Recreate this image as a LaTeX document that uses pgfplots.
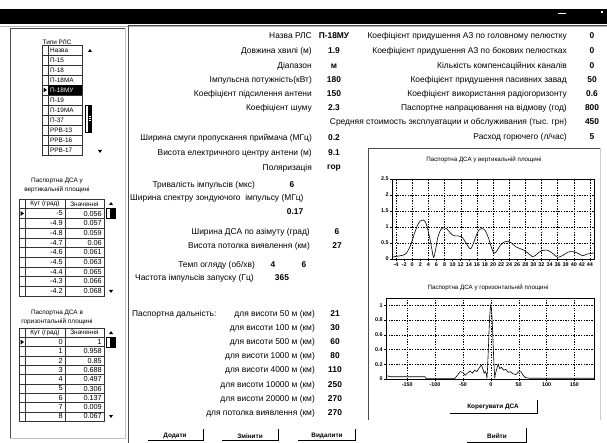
\documentclass[border=0pt]{standalone}
\usepackage{fontspec}
\setmainfont{Liberation Sans}
\usepackage{pgfplots}
\pgfplotsset{compat=1.18}
\newcommand{\fm}{\fontsize{8.4}{9}\selectfont}
\newcommand{\fs}{\fontsize{6.4}{7.5}\selectfont}
\newcommand{\ft}{\fontsize{7.3}{8}\selectfont}
\begin{document}
\begin{tikzpicture}[x=1pt,y=1pt,every node/.style={inner sep=0pt,font=\fm}]
\path[use as bounding box,fill=white] (0,0) rectangle (607,-443);
% title bar
\fill[black] (0,-9) rectangle (607,-24);
\draw[white,line width=1.2pt] (558,-13.5) -- (566,-13.5);
\fill[white] (601,-11) rectangle (603,-13);
\draw[gray!60] (0,-26.5) -- (607,-26.5);

% left panel
\draw[black!70,line width=0.7pt] (10,-438) -- (10,-28) -- (125,-28);
\draw[black!25,line width=0.7pt] (125,-28) -- (125,-438) -- (10,-438);
\draw[black!70,line width=0.8pt] (128,-443) -- (128,-25) -- (607,-25);

\node at (57,-42) {\fs Типи РЛС};
\foreach \n [count=\i from 0] in {Назва,П-15,П-18,П-18МА,П-18МУ,П-19,П-19МА,П-37,РРВ-13,РРВ-16,РРВ-17}{
  \draw[black!80,line width=0.4pt] (42,-45-10*\i) rectangle (48,-55-10*\i);
  \draw[black!80,line width=0.4pt] (48,-45-10*\i) rectangle (82,-55-10*\i);
  \node[anchor=west] at (50,-50-10*\i) {\fs \n};
}
\fill[black] (48,-85) rectangle (82,-95);
\node[anchor=west,text=white] at (50,-90) {\fs П-18МУ};
\fill[black] (43.5,-87.5) -- (47,-90) -- (43.5,-92.5) -- cycle;
\fill[black] (88,-52) -- (92,-52) -- (90,-49) -- cycle;
\fill[black] (98,-150) -- (102,-150) -- (100,-153) -- cycle;
\draw[black,fill=white,line width=0.4pt] (85,-105) rectangle (91,-132);
\fill[black] (88,-105) rectangle (91,-132);
\draw[white,line width=0.3pt] (88.5,-116) -- (90.5,-116) (88.5,-118) -- (90.5,-118) (88.5,-120) -- (90.5,-120);

\node at (57,-181) {\fs Паспортна ДСА у};
\node at (57,-190) {\fs вертикальній площині};
% table 1
\draw[black!80,line width=0.4pt] (19,-199) rectangle (104,-296);
\foreach \i in {1,...,9}{\draw[black!80,line width=0.4pt] (19,-199-9.7*\i) -- (104,-199-9.7*\i);}
\draw[black!80,line width=0.4pt] (25,-199) -- (25,-296) (65,-199) -- (65,-296);
\node at (45,-204) {\fs Кут (град)};
\node at (84.5,-204) {\fs Значення};
\foreach \a/\v [count=\i from 0] in {-5/0.056,-4.9/0.057,-4.8/0.059,-4.7/0.06,-4.6/0.061,-4.5/0.063,-4.4/0.065,-4.3/0.066,-4.2/0.068}{
  \node[anchor=east] at (63,-213.5-9.7*\i) {\ft \a};
  \node[anchor=east] at (102,-213.5-9.7*\i) {\ft \v};
}
\fill[black] (20.5,-211) -- (24,-213.5) -- (20.5,-216) -- cycle;
\fill[black] (109,-205) -- (113,-205) -- (111,-202) -- cycle;
\draw[black,line width=0.4pt] (106,-208) rectangle (115,-218);
\fill[black] (110,-208) rectangle (115,-218);
\fill[black] (109,-290) -- (113,-290) -- (111,-293) -- cycle;

\node at (57,-313) {\fs Паспортна ДСА в};
\node at (57,-322) {\fs горизонтальній площині};
% table 2
\draw[black!80,line width=0.4pt] (19,-328) rectangle (104,-421);
\foreach \i in {1,...,9}{\draw[black!80,line width=0.4pt] (19,-328-9.3*\i) -- (104,-328-9.3*\i);}
\draw[black!80,line width=0.4pt] (25,-328) -- (25,-421) (65,-328) -- (65,-421);
\node at (45,-332.7) {\fs Кут (град)};
\node at (84.5,-332.7) {\fs Значення};
\foreach \a/\v [count=\i from 0] in {0/1,1/0.958,2/0.85,3/0.688,4/0.497,5/0.306,6/0.137,7/0.009,8/0.067}{
  \node[anchor=east] at (63,-342-9.3*\i) {\ft \a};
  \node[anchor=east] at (102,-342-9.3*\i) {\ft \v};
}
\fill[black] (20.5,-339.5) -- (24,-342) -- (20.5,-344.5) -- cycle;
\fill[black] (109,-334) -- (113,-334) -- (111,-331) -- cycle;
\draw[black,line width=0.4pt] (106,-337) rectangle (115,-347);
\fill[black] (110,-337) rectangle (115,-347);
\fill[black] (109,-415) -- (113,-415) -- (111,-418) -- cycle;

% main fields, left column
\foreach \y/\l/\v in {36/Назва РЛС/П-18МУ,51/Довжина хвилі (м)/1.9,66/Діапазон/м,80/Імпульсна потужність(кВт)/180,94/Коефіцієнт підсилення антени/150,108/Коефіцієнт шуму/2.3,138/Ширина смуги пропускання приймача (МГц)/0.2,153/Висота електричного центру антени (м)/9.1,168/Поляризація/гор}{
  \node[anchor=east] at (312,-\y) {\l};
  \node at (334,-\y) {\bfseries \v};
}
% right column
\foreach \y/\l/\v in {36/Коефіцієнт придушення АЗ по головному пелюстку/0,51/Коефіцієнт придушення АЗ по бокових пелюстках/0,66/Кількість компенсаційних каналів/0,80/Коефіцієнт придушення пасивних завад/50,94/Коефіцієнт використання радіогоризонту/0.6,108/Паспортне напрацювання на відмову (год)/800,122/Средняя стоимость эксплуатации и обслуживания (тыс. грн)/450,137/{Расход горючего (л/час)}/5}{
  \node[anchor=east] at (567,-\y) {\l};
  \node at (592,-\y) {\bfseries \v};
}
\node[anchor=east] at (255,-185) {Тривалість імпульсів (мкс)};
\node at (292,-185) {\bfseries 6};
\node[anchor=west] at (130,-198) {Ширина спектру зондуючого \ імпульсу (МГц)};
\node at (295,-212) {\bfseries 0.17};
\node[anchor=east] at (310,-232) {Ширина ДСА по азімуту (град)};
\node at (337,-232) {\bfseries 6};
\node[anchor=east] at (310,-246) {Висота потолка виявлення (км)};
\node at (337,-246) {\bfseries 27};
\node[anchor=east] at (255,-265) {Темп огляду (об/хв)};
\node at (273,-265) {\bfseries 4};
\node at (304,-265) {\bfseries 6};
\node[anchor=west] at (135,-278) {Частота імпульсів запуску (Гц)};
\node at (282,-278) {\bfseries 365};
\node[anchor=west] at (132,-314) {Паспортна дальність:};
\foreach \y/\l/\v in {314/для висоти 50 м (км)/21,328/для висоти 100 м (км)/30,342/для висоти 500 м (км)/60,356/для висоти 1000 м (км)/80,370/для висоти 4000 м (км)/110,385/для висоти 10000 м (км)/250,399/для висоти 20000 м (км)/270,413/для потолка виявлення (км)/270}{
  \node[anchor=east] at (315,-\y) {\l};
  \node at (335,-\y) {\bfseries \v};
}
% buttons
\foreach \c/\a/\b/\t in {175/148/203/Додати,250/222/278/Змінити,327/298/355/Видалити}{
  \node at (\c,-436) {\fs\bfseries \t};
  \draw[black,line width=0.8pt] (\a,-440.5) -- (\b,-440.5) -- (\b,-429);
}
\node at (493,-407) {\fs\bfseries Корегувати ДСА};
\draw[black,line width=0.8pt] (450,-413.5) -- (537,-413.5) -- (537,-400);
\node at (497,-436) {\fs\bfseries Вийти};
\draw[black,line width=0.8pt] (467,-442) -- (526,-442) -- (526,-428);

% chart frame
\draw[black!70,line width=0.7pt] (368,-420) -- (368,-148) -- (600,-148);
\draw[black!20,line width=0.7pt] (600,-148) -- (600,-420);
\node at (484,-160) {\fontsize{6.2}{7}\selectfont Паспортна ДСА у вертикальній площині};
\node at (488,-288) {\fontsize{6.2}{7}\selectfont Паспортна ДСА у горизонтальній площині};

\pgfplotsset{dsa/.style={
  scale only axis,
  tick align=outside, tick pos=left,
  major tick length=2pt, minor tick length=1.2pt,
  tick style={black,line width=0.4pt},
  axis line style={line width=0.5pt},
  grid style={black,dash pattern=on 1.3pt off 1.3pt,line width=0.35pt},
  ticklabel style={font=\fontsize{5.4}{6}\selectfont\bfseries},
  xticklabel style={yshift=-1.2pt},
  yticklabel style={xshift=-1.2pt},
  /pgf/number format/assume math mode=true,
}}

\begin{axis}[dsa,
  at={(392pt,-259pt)}, anchor=south west,
  width=202pt, height=80pt,
  xmin=-5, xmax=45, ymin=0, ymax=2.5,
  xtick={-4,-2,...,44}, minor x tick num=1,
  ytick={0,0.5,1,1.5,2,2.5},
  extra x ticks={-4,0,...,44}, extra x tick labels={},
  extra x tick style={grid=major,major tick length=0pt},
  ymajorgrids,
]
\addplot[black,line width=0.6pt,mark=none,smooth,tension=0.5] coordinates {
(-5,0.056) (-4,0.08) (-3,0.1) (-2,0.13) (-1.5,0.17) (-1,0.27) (-0.5,0.4) (0,0.58)
(0.5,0.78) (1,0.95) (1.5,1.1) (2,1.19) (2.7,1.22) (3.3,1.15) (3.8,0.95) (4.3,0.68)
(4.8,0.35) (5.3,0.05) (5.8,0.3) (6.3,0.65) (7,0.9) (7.8,0.98) (8.5,0.95) (9.4,0.82)
(10.2,0.73) (11.4,0.72) (12.2,0.7) (13.1,0.55) (14.2,0.33) (14.8,0.38) (15.6,0.65)
(16.4,0.88) (17.2,0.95) (18,0.9) (18.9,0.65) (19.7,0.33) (20.3,0.18) (21,0.26)
(21.8,0.43) (22.8,0.53) (23.6,0.56) (24.7,0.49) (25.5,0.39) (26.6,0.33) (27.6,0.28)
(28.8,0.17) (29.8,0.07) (30.4,0.1) (31.3,0.2) (32.3,0.27) (33.3,0.28) (34.3,0.22)
(35.2,0.13) (36.1,0.05) (37.5,0.13) (38.7,0.22) (39.9,0.23) (41.2,0.17) (42.2,0.1)
(43.2,0.15) (45,0.19)
};
\end{axis}

\begin{axis}[dsa,
  at={(386pt,-379pt)}, anchor=south west,
  width=208pt, height=81pt,
  xmin=-188, xmax=185, ymin=0, ymax=1.1,
  xtick={-150,-100,...,150}, minor x tick num=4,
  ytick={0,0.2,0.4,0.6,0.8,1},
  grid=major,
]
\addplot[black,line width=0.6pt,mark=none] coordinates {
(-188,0.05) (-185,0.04) (-178,0.03) (-150,0.03) (-118,0.03) (-116,0.005) (-65,0.005)
(-60,0.05) (-55,0.1) (-50,0.09) (-46,0.05) (-42,0.08) (-37,0.11) (-33,0.08) (-29,0.12)
(-25,0.1) (-21,0.15) (-17,0.19) (-14,0.13) (-12,0.08) (-10,0.1) (-8,0.067) (-7,0.009)
(-6,0.137) (-5,0.306) (-4,0.497) (-3,0.688) (-2,0.85) (-1,0.958) (0,1) (1,0.958)
(2,0.85) (3,0.688) (4,0.497) (5,0.306) (6,0.137) (7,0.009) (8,0.067) (10,0.12)
(13,0.2) (16,0.14) (19,0.16) (23,0.12) (27,0.13) (31,0.09) (35,0.1) (40,0.07)
(45,0.06) (50,0.1) (54,0.1) (58,0.05) (62,0.02) (70,0.01) (120,0.01) (185,0.01)
};
\end{axis}
\end{tikzpicture}
\end{document}
